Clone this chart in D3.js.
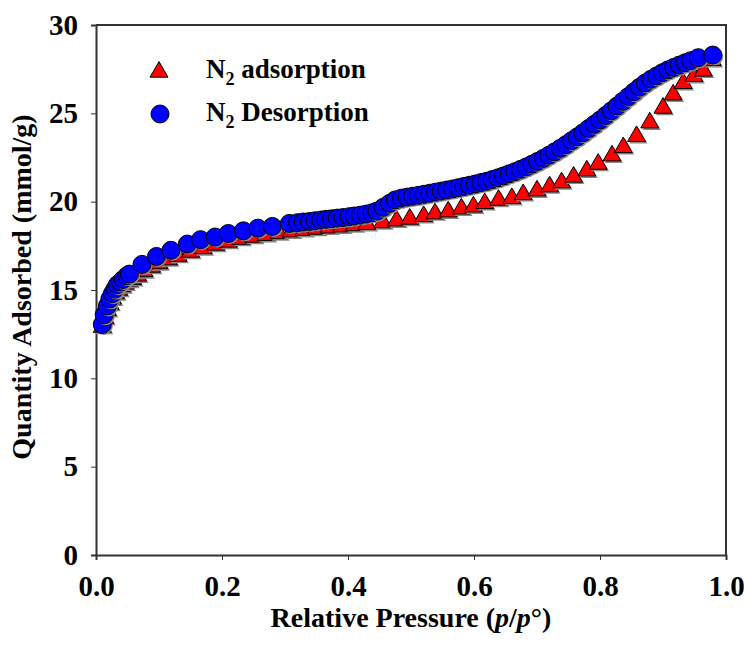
<!DOCTYPE html>
<html>
<head>
<meta charset="utf-8">
<script src="https://cdn.jsdelivr.net/npm/d3@7"></script>
<style>
    body { margin: 0; background: #fff; }
    text { font-family: 'Liberation Serif', 'Times New Roman', serif; font-weight: bold; }
</style>
</head>
<body>
<div id="chart"></div>
<script>
// adsorption branch (red triangles)
var ads_p = [0.010, 0.014, 0.018, 0.022, 0.026, 0.031, 0.036, 0.041, 0.046, 0.052,
    0.058, 0.066, 0.076, 0.088, 0.100, 0.115, 0.130, 0.150, 0.170, 0.190,
    0.210, 0.230, 0.250, 0.270, 0.290, 0.310, 0.330, 0.350, 0.370, 0.390,
    0.410, 0.430, 0.455, 0.477, 0.498, 0.520, 0.538, 0.559, 0.580, 0.599,
    0.617, 0.639, 0.660, 0.678, 0.700, 0.720, 0.739, 0.758, 0.779, 0.797,
    0.819, 0.837, 0.858, 0.879, 0.900, 0.916, 0.932, 0.949, 0.964, 0.978];
var ads_q = [12.9, 13.4, 13.85, 14.2, 14.5, 14.8, 15.0, 15.2, 15.35, 15.5,
    15.6, 15.8, 16.05, 16.3, 16.5, 16.72, 16.92, 17.15, 17.35, 17.55,
    17.72, 17.88, 18.0, 18.1, 18.2, 18.3, 18.38, 18.45, 18.52, 18.58,
    18.65, 18.72, 18.82, 18.92, 19.02, 19.17, 19.32, 19.43, 19.6, 19.71,
    19.9, 20.09, 20.19, 20.41, 20.62, 20.85, 21.08, 21.4, 21.75, 22.13,
    22.6, 23.07, 23.7, 24.47, 25.3, 26.05, 26.7, 27.1, 27.4, 28.0];

// desorption branch (blue circles)
var des_p = [0.010, 0.013, 0.018, 0.022, 0.026, 0.030, 0.034, 0.039, 0.043, 0.049,
    0.053, 0.073, 0.096, 0.119, 0.145, 0.166, 0.189, 0.210, 0.234, 0.257,
    0.280, 0.307, 0.320, 0.329, 0.339, 0.348, 0.357, 0.365, 0.374, 0.383,
    0.392, 0.402, 0.410, 0.420, 0.429, 0.438, 0.446, 0.456, 0.466, 0.475,
    0.485, 0.494, 0.503, 0.512, 0.521, 0.530, 0.539, 0.548, 0.557, 0.566,
    0.575, 0.584, 0.593, 0.602, 0.611, 0.620, 0.629, 0.638, 0.647, 0.656,
    0.665, 0.674, 0.683, 0.692, 0.701, 0.710, 0.719, 0.728, 0.737, 0.746,
    0.755, 0.764, 0.773, 0.782, 0.791, 0.800, 0.809, 0.818, 0.827, 0.836,
    0.845, 0.854, 0.863, 0.872, 0.881, 0.890, 0.899, 0.908, 0.917, 0.926,
    0.935, 0.944, 0.956, 0.979];
var des_q = [13.05, 13.6, 14.1, 14.5, 14.8, 15.05, 15.3, 15.45, 15.6, 15.8,
    15.9, 16.45, 16.9, 17.25, 17.6, 17.85, 18.0, 18.2, 18.35, 18.5,
    18.6, 18.77, 18.81, 18.85, 18.88, 18.92, 18.96, 19.0, 19.03, 19.07,
    19.1, 19.15, 19.19, 19.24, 19.3, 19.37, 19.47, 19.68, 19.9, 20.1,
    20.2, 20.26, 20.31, 20.36, 20.42, 20.48, 20.54, 20.6, 20.66, 20.72,
    20.79, 20.86, 20.93, 21.0, 21.08, 21.15, 21.25, 21.35, 21.46, 21.58,
    21.7, 21.83, 21.97, 22.12, 22.28, 22.45, 22.63, 22.82, 23.02, 23.23,
    23.45, 23.67, 23.9, 24.14, 24.38, 24.62, 24.88, 25.14, 25.41, 25.68,
    25.95, 26.22, 26.48, 26.72, 26.93, 27.12, 27.3, 27.46, 27.6, 27.73,
    27.86, 27.98, 28.15, 28.3];

var x_ticks = [0.0, 0.2, 0.4, 0.6, 0.8, 1.0];
var y_ticks = [0, 5, 10, 15, 20, 25, 30];

var width = 744;
var height = 650;
var margin = {left: 96, right: 18, top: 25, bottom: 95};

var svg = d3.select('#chart')
    .append('svg')
    .attr('width', width)
    .attr('height', height)
    .style('display', 'block');

var x = d3.scaleLinear()
    .domain([0, 1])
    .range([margin.left, width - margin.right]);

var y = d3.scaleLinear()
    .domain([0, 30])
    .range([height - margin.bottom, margin.top]);

var frame_color = '#333';

//frame: top and right lines
svg.append('path')
    .attr('d', 'M' + x(0) + ',' + y(30) + 'H' + x(1) + 'V' + y(0))
    .style('fill', 'none')
    .style('stroke', frame_color)
    .style('stroke-width', 2);

function drawAxes(){
    var xAxis = svg.append('g')
        .attr('transform', 'translate(0,' + y(0) + ')')
        .call(d3.axisBottom(x).tickValues(x_ticks).tickSize(5).tickPadding(15)
            .tickFormat(d3.format('.1f')));

    var yAxis = svg.append('g')
        .attr('transform', 'translate(' + x(0) + ',0)')
        .call(d3.axisLeft(y).tickValues(y_ticks).tickSize(5).tickPadding(13));

    [xAxis, yAxis].forEach(function(g){
        g.select('.domain')
            .style('stroke', frame_color)
            .style('stroke-width', 2);
        g.selectAll('.tick line')
            .style('stroke', frame_color)
            .style('stroke-width', 1);
        g.selectAll('.tick text')
            .style('font-size', '29px')
            .style('font-family', "'Liberation Serif', serif")
            .style('font-weight', 'bold')
            .style('fill', '#000');
    });

    svg.append('text')
        .attr('x', (x(0) + x(1)) / 2)
        .attr('y', 627)
        .attr('text-anchor', 'middle')
        .style('font-size', '28px')
        .html('Relative Pressure (<tspan font-style="italic">p</tspan>/<tspan font-style="italic">p</tspan>°)');

    svg.append('text')
        .attr('transform', 'translate(31,287) rotate(-90)')
        .attr('text-anchor', 'middle')
        .style('font-size', '28px')
        .text('Quantity Adsorbed (mmol/g)');
}

var triangle = d3.symbol().type(d3.symbolTriangle).size(140);

function drawSeries(){
    var ads = ads_p.map(function(p, i){ return {p: p, q: ads_q[i]}; });
    var des = des_p.map(function(p, i){ return {p: p, q: des_q[i]}; });

    var g_ads = svg.append('g').attr('class', 'adsorption');
    ads.forEach(function(d){
        g_ads.append('path')
            .attr('d', triangle())
            .attr('transform', 'translate(' + (x(d.p) + 2) + ',' + (y(d.q) + 2) + ')')
            .style('fill', '#888');
        g_ads.append('path')
            .attr('d', triangle())
            .attr('transform', 'translate(' + x(d.p) + ',' + y(d.q) + ')')
            .style('fill', '#ff0000')
            .style('stroke', '#000')
            .style('stroke-width', 1);
    });

    var g_des = svg.append('g').attr('class', 'desorption');
    des.forEach(function(d){
        g_des.append('circle')
            .attr('cx', x(d.p) + 1.5)
            .attr('cy', y(d.q) + 1.5)
            .attr('r', 9)
            .style('fill', '#888');
        g_des.append('circle')
            .attr('cx', x(d.p))
            .attr('cy', y(d.q))
            .attr('r', 9)
            .style('fill', '#0000ff')
            .style('stroke', '#000')
            .style('stroke-width', 1);
    });
}

function drawLegend(){
    var legend = svg.append('g').attr('class', 'legend');

    legend.append('path')
        .attr('d', triangle())
        .attr('transform', 'translate(159,72)')
        .style('fill', '#ff0000')
        .style('stroke', '#000')
        .style('stroke-width', 1);

    legend.append('circle')
        .attr('cx', 160)
        .attr('cy', 114)
        .attr('r', 9)
        .style('fill', '#0000ff')
        .style('stroke', '#000')
        .style('stroke-width', 1);

    var labels = [' adsorption', ' Desorption'];
    labels.forEach(function(label, i){
        var t = legend.append('text')
            .attr('x', 206)
            .attr('y', 78 + i * 43)
            .style('font-size', '27px');
        t.append('tspan').text('N');
        t.append('tspan').attr('dy', 7).style('font-size', '18px').text('2');
        t.append('tspan').attr('dy', -7).text(label);
    });
}

drawAxes();
drawSeries();
drawLegend();
</script>
</body>
</html>
